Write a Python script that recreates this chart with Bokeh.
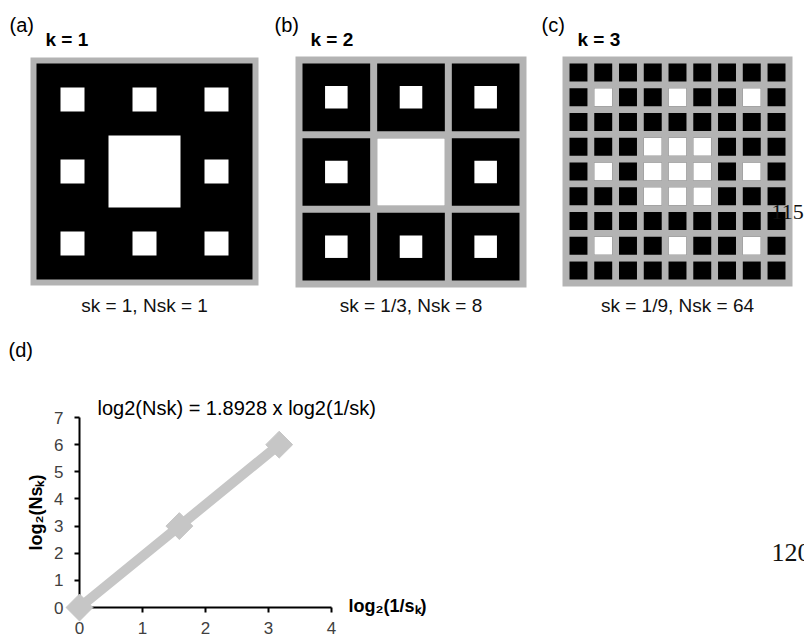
import math
from bokeh.plotting import figure
from bokeh.models import Range1d, Label, FixedTicker, LinearAxis
from bokeh.embed import file_html
from bokeh.resources import INLINE

# ---------------- data ----------------
panel_tags = ["(a)", "(b)", "(c)"]
k_levels = [1, 2, 3]
s_k_labels = ["1", "1/3", "1/9"]
Ns_k = [1, 8, 64]
boxes_per_side = [1, 3, 9]
log2_inv_s = [0.0, 1.585, 3.170]
log2_Ns = [0, 3, 6]
slope = 1.8928
x_ticks = [0, 1, 2, 3, 4]
y_ticks = [0, 1, 2, 3, 4, 5, 6, 7]

# level-2 Sierpinski carpet holes on a 9x9 unit grid: (x, y, size)
holes = [(3, 3, 3)] + [(3 * bx + 1, 3 * by + 1, 1)
                       for bx in range(3) for by in range(3)
                       if not (bx == 1 and by == 1)]

# ---------------- style / layout ----------------
FONT = "Liberation Sans"
SERIF = "Liberation Serif"
GRAY = "#b3b3b3"
LIGHT = "#c6c6c6"
W = 804
H = 640
L0, T0 = 0, 0          # figure origin on the page, so data coords == screen pixels

panels = [
    dict(x0=30, y0=57, size=228, border=6, gap=0),
    dict(x0=295, y0=56, size=231, border=7, gap=7),
    dict(x0=562, y0=56, size=230, border=7, gap=6.8),
]

# chart (d) placement on the page
X0S, Y0S = 79, 607          # screen position of the data origin
ux = (331 - 79) / 4.0       # px per x unit
uy = (607 - 417) / 7.0      # px per y unit

p = figure(width=W, height=H, x_range=Range1d(L0, L0 + W),
           y_range=Range1d(T0 + H, T0), x_axis_type=None, y_axis_type=None,
           output_backend="svg", toolbar_location=None, min_border=0)
p.grid.visible = False
p.outline_line_color = None
p.extra_x_ranges = {"dx": Range1d((L0 - X0S) / ux, (L0 + W - X0S) / ux)}
p.extra_y_ranges = {"dy": Range1d((Y0S - (T0 + H)) / uy, (Y0S - T0) / uy)}

gl, gr, gt, gb = [], [], [], []
bl, br, bt, bbm = [], [], [], []
wl, wr, wt, wb = [], [], [], []
for i, pan in enumerate(panels):
    x0, y0, size, border, gap = pan["x0"], pan["y0"], pan["size"], pan["border"], pan["gap"]
    n = boxes_per_side[i]
    m = 9 // n
    box = (size - 2 * border - (n - 1) * gap) / n
    gl.append(x0); gr.append(x0 + size); gt.append(y0); gb.append(y0 + size)
    for bi in range(n):
        for bj in range(n):
            bx = x0 + border + bi * (box + gap)
            by = y0 + border + bj * (box + gap)
            bl.append(bx); br.append(bx + box); bt.append(by); bbm.append(by + box)
            u = box / m
            for hx, hy, hs in holes:
                ux0 = max(hx, bi * m); ux1 = min(hx + hs, (bi + 1) * m)
                uy0 = max(hy, bj * m); uy1 = min(hy + hs, (bj + 1) * m)
                if ux1 <= ux0 or uy1 <= uy0:
                    continue
                wl.append(bx + (ux0 - bi * m) * u)
                wr.append(bx + (ux1 - bi * m) * u)
                wt.append(by + (uy0 - bj * m) * u)
                wb.append(by + (uy1 - bj * m) * u)

p.quad(left=gl, right=gr, top=gt, bottom=gb, fill_color=GRAY, line_color=None)
p.quad(left=bl, right=br, top=bt, bottom=bbm, fill_color="black", line_color=None)
p.quad(left=wl, right=wr, top=wt, bottom=wb, fill_color="white", line_color=None)

for i, pan in enumerate(panels):
    x0 = pan["x0"]
    cx = x0 + pan["size"] / 2
    p.add_layout(Label(x=x0 - 21, y=24, text=panel_tags[i], text_font=FONT,
                       text_font_size="20px", text_baseline="alphabetic",
                       text_color="black"))
    p.add_layout(Label(x=x0 + 15, y=39, text=f"k = {k_levels[i]}", text_font=FONT,
                       text_font_size="19px", text_font_style="bold",
                       text_baseline="alphabetic", text_color="black"))
    p.add_layout(Label(x=cx, y=305, text=f"sk = {s_k_labels[i]}, Nsk = {Ns_k[i]}",
                       text_font=FONT, text_font_size="19px", text_align="center",
                       text_baseline="alphabetic", text_color="#111111"))

# stray page text overlapping panel (c)
p.add_layout(Label(x=771, y=211, text="115", text_font=SERIF, text_font_size="22px",
                   text_baseline="alphabetic", text_color="#111111"))

# ---------------- panel (d) ----------------
def style_axis(ax, standoff):
    ax.axis_line_color = "black"
    ax.axis_line_width = 2
    ax.major_tick_line_color = "black"
    ax.major_tick_line_width = 2
    ax.major_tick_out = 5
    ax.major_tick_in = 0
    ax.minor_tick_out = 0
    ax.minor_tick_in = 0
    ax.major_label_text_font = FONT
    ax.major_label_text_font_size = "17px"
    ax.major_label_text_color = "#404040"
    ax.major_label_standoff = standoff


xa = LinearAxis(x_range_name="dx", y_range_name="dy", fixed_location=0,
                bounds=(x_ticks[0], x_ticks[-1]), ticker=FixedTicker(ticks=x_ticks))
style_axis(xa, 9)
p.add_layout(xa, "below")
ya = LinearAxis(x_range_name="dx", y_range_name="dy", fixed_location=0,
                bounds=(y_ticks[0], y_ticks[-1]), ticker=FixedTicker(ticks=y_ticks))
style_axis(ya, 11)
p.add_layout(ya, "left")

p.line(log2_inv_s, log2_Ns, x_range_name="dx", y_range_name="dy",
       line_color=LIGHT, line_width=10, level="overlay")
p.scatter(log2_inv_s, log2_Ns, x_range_name="dx", y_range_name="dy",
          marker="square", angle=math.pi / 4, size=19,
          fill_color=LIGHT, line_color=LIGHT, level="overlay")

p.add_layout(Label(x=8, y=349, text="(d)", text_font=FONT, text_font_size="20px",
                   text_baseline="alphabetic", text_color="black"))
p.add_layout(Label(x=97, y=407, text=f"log2(Nsk) = {slope} x log2(1/sk)",
                   text_font=FONT, text_font_size="20px",
                   text_baseline="alphabetic", text_color="black"))
p.add_layout(Label(x=35, y=512, text="log\u2082(Ns\u2096)", text_font=FONT,
                   text_font_size="18px", text_font_style="bold", angle=math.pi / 2,
                   text_align="center", text_baseline="middle", text_color="black"))
p.add_layout(Label(x=348, y=605, text="log\u2082(1/s\u2096)", text_font=FONT,
                   text_font_size="18px", text_font_style="bold",
                   text_baseline="middle", text_color="black"))
p.add_layout(Label(x=771, y=552, text="120", text_font=SERIF, text_font_size="26px",
                   text_baseline="alphabetic", text_color="#111111"))

open("out.html", "w").write(file_html(p, INLINE))
